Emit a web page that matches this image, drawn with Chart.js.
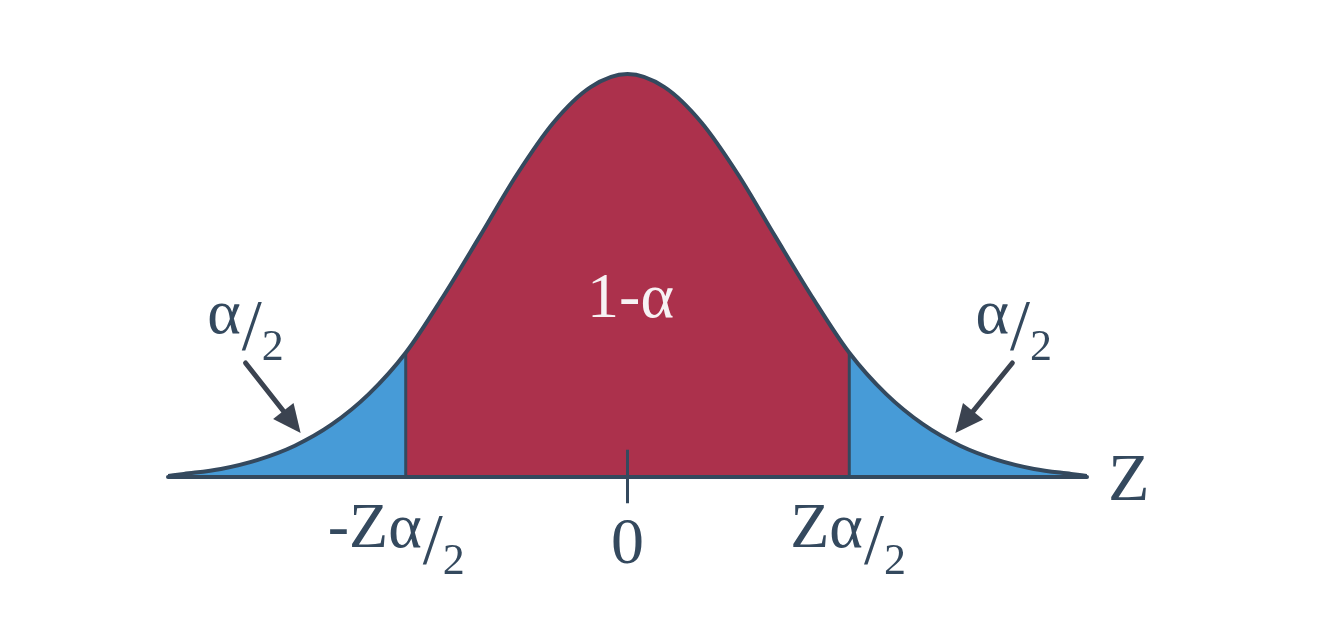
<!DOCTYPE html>
<html>
<head>
<meta charset="utf-8">
<script src="https://cdn.jsdelivr.net/npm/chart.js@4.4.1/dist/chart.umd.min.js"></script>
<style>
  html, body { margin: 0; padding: 0; background: #ffffff; }
  #wrap { width: 1334px; height: 640px; position: relative; }
</style>
</head>
<body>
<div id="wrap"><canvas id="c" width="1334" height="640"></canvas></div>
<script>
// ---- data ----
const zValues = [-3.17, -3.06, -2.805, -2.55, -2.295, -2.04, -1.785, -1.53, -1.275, -1.02, -0.765, -0.51, -0.255, 0,
                  0.255, 0.51, 0.765, 1.02, 1.275, 1.53, 1.785, 2.04, 2.295, 2.55, 2.805, 3.06, 3.17];
const density = [0.001, 0.003, 0.008, 0.017, 0.031, 0.052, 0.082, 0.123, 0.178, 0.238, 0.299, 0.351, 0.386, 0.399,
                  0.386, 0.351, 0.299, 0.238, 0.178, 0.123, 0.082, 0.052, 0.031, 0.017, 0.008, 0.003, 0.001];
const criticalZ = [-1.53, 1.53];
const criticalDensity = [0.123, 0.123];
const zeroTick = [-0.026, 0.027];
const axisName = 'Z';
const centerLabel = '1-α';
const tailLabel = ['α', '/', '2'];
const tickLabels = [
  { z: -1.53, parts: ['-Zα', '/', '2'] },
  { z: 0, parts: ['0'] },
  { z: 1.53, parts: ['Zα', '/', '2'] }
];

// ---- styles ----
const RED = '#AC314C';
const BLUE = '#479BD7';
const INK = '#34495E';
const ARROW = '#3B4350';
const SERIF = '"Liberation Serif", "Times New Roman", Times, serif';

const pts = zValues.map((x, i) => ({ x: x, y: density[i] }));
const zMin = zValues[0], zMax = zValues[zValues.length - 1];

const annotate = {
  id: 'annotate',
  afterDatasetsDraw(chart) {
    const ctx = chart.ctx;
    const xs = chart.scales.x, ys = chart.scales.y;
    const px = v => xs.getPixelForValue(v);
    const py = v => ys.getPixelForValue(v);

    function fracText(parts, x, y, color) {
      ctx.save();
      ctx.fillStyle = color;
      ctx.textBaseline = 'alphabetic';
      ctx.textAlign = 'left';
      const fMain = '64px ' + SERIF, fSlash = '72px ' + SERIF, fSub = '44px ' + SERIF;
      ctx.font = fMain; const w0 = ctx.measureText(parts[0]).width;
      ctx.fillText(parts[0], x, y);
      if (parts.length > 1) {
        ctx.font = fSlash; const w1 = ctx.measureText(parts[1]).width;
        ctx.fillText(parts[1], x + w0 + 1, y + 16);
        ctx.font = fSub;
        ctx.fillText(parts[2], x + w0 + w1 + 1, y + 27);
      }
      ctx.restore();
    }

    function arrow(x1, y1, x2, y2) {
      const dx = x2 - x1, dy = y2 - y1, len = Math.hypot(dx, dy);
      const ux = dx / len, uy = dy / len;
      const head = 28, half = 13;
      const bx = x2 - ux * head, by = y2 - uy * head;
      ctx.save();
      ctx.strokeStyle = ARROW; ctx.fillStyle = ARROW;
      ctx.lineWidth = 5; ctx.lineCap = 'round';
      ctx.beginPath(); ctx.moveTo(x1, y1); ctx.lineTo(bx + ux * 2, by + uy * 2); ctx.stroke();
      ctx.beginPath();
      ctx.moveTo(x2, y2);
      ctx.lineTo(bx - uy * half, by + ux * half);
      ctx.lineTo(bx + uy * half, by - ux * half);
      ctx.closePath(); ctx.fill();
      ctx.restore();
    }

    const base = py(0);
    // centre label
    ctx.save();
    ctx.fillStyle = '#F7F2F4';
    ctx.font = '64px ' + SERIF;
    ctx.textAlign = 'center';
    ctx.textBaseline = 'alphabetic';
    ctx.fillText(centerLabel, px(0) + 3, base - 160);
    ctx.restore();

    // tail labels
    fracText(tailLabel, px(-2.90), base - 144, INK);
    fracText(tailLabel, px(2.40), base - 144, INK);

    // arrows
    arrow(px(-2.635), base - 114, px(-2.255), base - 44);
    arrow(px(2.655), base - 114, px(2.262), base - 44);

    // tick labels
    tickLabels.forEach(t => {
      if (t.parts.length === 1) {
        ctx.save();
        ctx.fillStyle = INK; ctx.font = '66px ' + SERIF;
        ctx.textAlign = 'center'; ctx.textBaseline = 'alphabetic';
        ctx.fillText(t.parts[0], px(t.z), base + 86);
        ctx.restore();
      } else {
        const off = t.z < 0 ? -78 : -59;
        fracText(t.parts, px(t.z) + off, base + 70, INK);
      }
    });

    // axis name
    ctx.save();
    ctx.fillStyle = INK; ctx.font = '68px ' + SERIF;
    ctx.textAlign = 'left'; ctx.textBaseline = 'alphabetic';
    ctx.fillText(axisName, xs.right + 21, base + 23);
    ctx.restore();
  }
};

function build() {
  new Chart(document.getElementById('c'), {
    type: 'line',
    data: {
      datasets: [
        {
          data: pts, fill: 'origin', backgroundColor: RED, borderWidth: 0, pointRadius: 0,
          cubicInterpolationMode: 'monotone', order: 10,
          segment: {
            backgroundColor: c => (c.p0.parsed.x < criticalZ[0] - 1e-9 || c.p1.parsed.x > criticalZ[1] + 1e-9) ? BLUE : RED
          }
        },
        {
          data: pts, fill: false, borderColor: INK, borderWidth: 4, pointRadius: 0,
          cubicInterpolationMode: 'monotone', borderJoinStyle: 'round', borderCapStyle: 'round', order: 2
        },
        {
          data: [{ x: criticalZ[0], y: 0 }, { x: criticalZ[0], y: criticalDensity[0] }],
          fill: false, borderColor: INK, borderWidth: 3, pointRadius: 0, order: 3
        },
        {
          data: [{ x: criticalZ[1], y: 0 }, { x: criticalZ[1], y: criticalDensity[1] }],
          fill: false, borderColor: INK, borderWidth: 3, pointRadius: 0, order: 3
        },
        {
          data: [{ x: zMin, y: 0 }, { x: zMax, y: 0 }],
          fill: false, borderColor: INK, borderWidth: 4, pointRadius: 0, borderCapStyle: 'round', order: 1, clip: false
        },
        {
          data: [{ x: 0, y: zeroTick[0] }, { x: 0, y: zeroTick[1] }],
          fill: false, borderColor: INK, borderWidth: 3, pointRadius: 0, order: 1, clip: false
        }
      ]
    },
    options: {
      responsive: false,
      animation: false,
      layout: { padding: { left: 168, right: 247, top: 22.5, bottom: 163 } },
      scales: {
        x: { type: 'linear', min: zMin, max: zMax, display: false },
        y: { type: 'linear', min: 0, max: 0.45, display: false }
      },
      plugins: { legend: { display: false }, tooltip: { enabled: false } }
    },
    plugins: [annotate]
  });
}

if (document.fonts && document.fonts.load) {
  Promise.all([
    document.fonts.load('64px "Liberation Serif"'),
    document.fonts.load('64px "Liberation Serif"', 'α')
  ]).then(build, build);
} else {
  build();
}
</script>
</body>
</html>
